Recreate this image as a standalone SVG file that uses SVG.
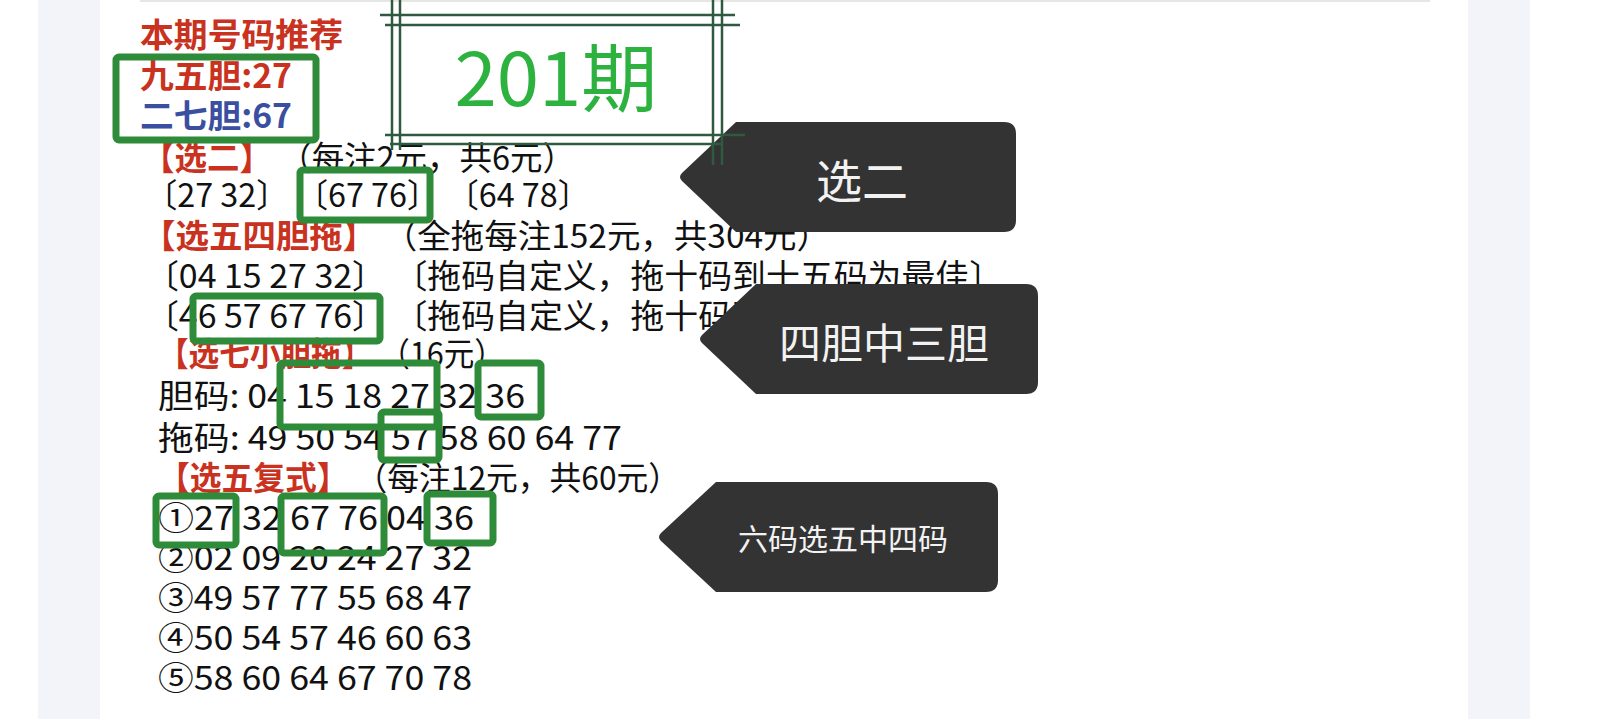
<svg xmlns="http://www.w3.org/2000/svg" width="1600" height="719" viewBox="0 0 1600 719">
<style>
.t{font-family:"Noto Sans CJK SC","Noto Sans",sans-serif;font-size:33px;fill:#111}
.r{fill:#c8321e;font-weight:bold}
.b{fill:#3a4fa0;font-weight:bold}
.box{fill:none;stroke:#2e8b3a;stroke-width:7}
.co{fill:#333}
.ct{font-family:"Noto Sans CJK SC","Noto Sans",sans-serif;fill:#f2f2f2;text-anchor:middle;dominant-baseline:central}
.fl{stroke:#2f5a40;stroke-width:2.5}
</style>
<rect width="1600" height="719" fill="#fff"/>
<rect x="38" width="1492" height="719" fill="#f3f4fa"/>
<rect x="100" width="1368" height="719" fill="#fff"/>
<line x1="140" y1="1" x2="1430" y2="1" stroke="#e6e6e6" stroke-width="2"/>
<g id="text">
<text class="t r" x="140" y="47" textLength="203" lengthAdjust="spacingAndGlyphs">本期号码推荐</text>
<text class="t r" x="140" y="88" textLength="152" lengthAdjust="spacingAndGlyphs">九五胆:27</text>
<text class="t b" x="140" y="128" textLength="152" lengthAdjust="spacingAndGlyphs">二七胆:67</text>
<text class="t" x="142" y="170" textLength="433" lengthAdjust="spacingAndGlyphs"><tspan class="r">【选二】</tspan> （每注2元，共6元）</text>
<text class="t" x="145" y="207" textLength="445" lengthAdjust="spacingAndGlyphs">〔27 32〕 〔67 76〕 〔64 78〕</text>
<text class="t" x="142" y="248" textLength="688" lengthAdjust="spacingAndGlyphs"><tspan class="r">【选五四胆拖】</tspan> （全拖每注152元，共304元）</text>
<text class="t" x="145" y="288" textLength="858" lengthAdjust="spacingAndGlyphs">〔04 15 27 32〕 〔拖码自定义，拖十码到十五码为最佳〕</text>
<text class="t" x="145" y="328" textLength="858" lengthAdjust="spacingAndGlyphs">〔46 57 67 76〕 〔拖码自定义，拖十码到十五码为最佳〕</text>
<text class="t" x="158" y="366" textLength="347" lengthAdjust="spacingAndGlyphs"><tspan class="r">【选七小胆拖】</tspan> （16元）</text>
<text class="t" x="158" y="408" textLength="367" lengthAdjust="spacingAndGlyphs">胆码: 04 15 18 27 32 36</text>
<text class="t" x="158" y="450" textLength="464" lengthAdjust="spacingAndGlyphs">拖码: 49 50 54 57 58 60 64 77</text>
<text class="t" x="158" y="490" textLength="522" lengthAdjust="spacingAndGlyphs"><tspan class="r">【选五复式】</tspan> （每注12元，共60元）</text>
<text class="t" x="158" y="530" textLength="316" lengthAdjust="spacingAndGlyphs">①27 32 67 76 04 36</text>
<text class="t" x="158" y="570" textLength="314" lengthAdjust="spacingAndGlyphs">②02 09 20 24 27 32</text>
<text class="t" x="158" y="610" textLength="314" lengthAdjust="spacingAndGlyphs">③49 57 77 55 68 47</text>
<text class="t" x="158" y="650" textLength="314" lengthAdjust="spacingAndGlyphs">④50 54 57 46 60 63</text>
<text class="t" x="158" y="690" textLength="314" lengthAdjust="spacingAndGlyphs">⑤58 60 64 67 70 78</text>
</g>
<g id="boxes">
<rect class="box" x="116" y="57" width="200" height="83" rx="3"/>
<rect class="box" x="300" y="170" width="130" height="50" rx="3"/>
<rect class="box" x="193" y="296" width="187" height="45" rx="3"/>
<rect class="box" x="280" y="363" width="157" height="64" rx="3"/>
<rect class="box" x="478" y="363" width="63" height="54" rx="3"/>
<rect class="box" x="381" y="412" width="58" height="48" rx="3"/>
<rect class="box" x="156" y="496" width="80" height="49" rx="3"/>
<rect class="box" x="281" y="496" width="103" height="57" rx="3"/>
<rect class="box" x="427" y="494" width="66" height="49" rx="3"/>
</g>
<g id="callouts">
<g id="c1"><path class="co" d="M736 122 H1004 Q1016 122 1016 134 V220 Q1016 232 1004 232 H736 L682 181 Q678 177 682 173 Z"/><text class="ct" x="862" y="178" font-size="46">选二</text></g>
<g id="c2"><path class="co" d="M756 284 H1026 Q1038 284 1038 296 V382 Q1038 394 1026 394 H756 L702 343 Q698 339 702 335 Z"/><text class="ct" x="884" y="340" font-size="42">四胆中三胆</text></g>
<g id="c3"><path class="co" d="M716 482 H986 Q998 482 998 494 V580 Q998 592 986 592 H716 L661 541 Q657 537 661 533 Z"/><text class="ct" x="843" y="537" font-size="30">六码选五中四码</text></g>
</g>
<g id="frame">
<line class="fl" x1="392" y1="0" x2="392" y2="150"/>
<line class="fl" x1="400" y1="0" x2="400" y2="150"/>
<line class="fl" x1="713" y1="0" x2="713" y2="165"/>
<line class="fl" x1="722" y1="0" x2="722" y2="165"/>
<line class="fl" x1="380" y1="15" x2="735" y2="15"/>
<line class="fl" x1="385" y1="25" x2="740" y2="25"/>
<line class="fl" x1="385" y1="135" x2="745" y2="135"/>
<line class="fl" x1="390" y1="144" x2="722" y2="144"/>
<text x="556" y="106" font-family="'Noto Sans CJK SC','Noto Sans',sans-serif" font-size="74" fill="#2db240" text-anchor="middle" textLength="203" lengthAdjust="spacingAndGlyphs">201期</text>
</g>
</svg>
